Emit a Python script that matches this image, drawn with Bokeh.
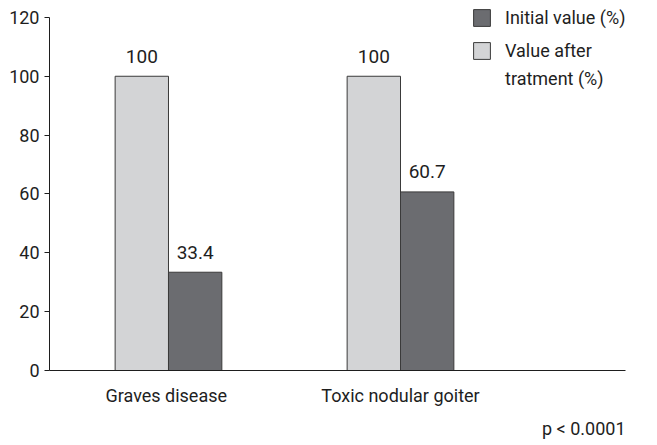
from bokeh.plotting import figure
from bokeh.models import ColumnDataSource, FixedTicker, Legend, LegendItem, Title
from bokeh.transform import dodge
from bokeh.core.properties import value
from bokeh.embed import file_html
from bokeh.resources import INLINE

# ---- data ----
categories = ["Graves  disease", "Toxic nodular goiter"]
cat_pos = [1, 2]
after_values = [100, 100]      # Value after tratment (%)
initial_values = [33.4, 60.7]  # Initial value (%)
y_ticks = [0, 20, 40, 60, 80, 100, 120]
legend_labels = ["Initial value (%)", "Value after", "tratment (%)"]
p_text = "p < 0.0001"

FONT = "Roboto"
LIGHT = "#d3d4d6"
DARK = "#6b6c70"
EDGE = "#3a3a3a"
TXT = "#1e1e1e"

src = ColumnDataSource(dict(
    x=cat_pos,
    after=after_values,
    initial=initial_values,
    after_lbl=[f"{v:g}" for v in after_values],
    initial_lbl=[f"{v:g}" for v in initial_values],
))

X0, X1 = 0.4871, 3.056
Y_TOP = 125.747
p = figure(width=657, height=445, output_backend="svg", toolbar_location=None,
           x_range=(X0, X1), y_range=(0, Y_TOP),
           min_border_left=49, min_border_right=12, min_border_top=0, min_border_bottom=73)
p.outline_line_color = None
p.grid.grid_line_color = None

bw = 0.23
r_after = p.vbar(x=dodge("x", -bw / 2, range=p.x_range), top="after", width=bw, source=src,
                 fill_color=LIGHT, line_color=EDGE, line_width=1)
r_init = p.vbar(x=dodge("x", bw / 2, range=p.x_range), top="initial", width=bw, source=src,
                fill_color=DARK, line_color=EDGE, line_width=1)

for col, off in (("after_lbl", -bw / 2), ("initial_lbl", bw / 2)):
    p.text(x=dodge("x", off, range=p.x_range), y=col.replace("_lbl", ""), text=col, source=src,
           text_align="center", text_baseline="alphabetic", y_offset=-20,
           text_font=value(FONT), text_font_size="19px", text_color=TXT)

# y axis
ya = p.yaxis[0]
ya.ticker = FixedTicker(ticks=y_ticks)
ya.bounds = (0, 120)
ya.minor_tick_line_color = None
ya.major_tick_in = 0
ya.major_tick_out = 5
ya.axis_line_color = TXT
ya.major_tick_line_color = TXT
ya.major_label_text_font = FONT
ya.major_label_text_font_size = "18px"
ya.major_label_text_color = TXT
ya.major_label_standoff = 5

# x axis
xa = p.xaxis[0]
xa.ticker = FixedTicker(ticks=cat_pos)
xa.major_label_overrides = {c: n for c, n in zip(cat_pos, categories)}
xa.bounds = (X0, 2.970)
xa.major_tick_line_color = None
xa.minor_tick_line_color = None
xa.axis_line_color = TXT
xa.major_label_text_font = FONT
xa.major_label_text_font_size = "18px"
xa.major_label_text_color = TXT
xa.major_label_standoff = 8


def style_legend(lg):
    lg.border_line_color = None
    lg.background_fill_alpha = 0
    lg.padding = 0
    lg.margin = 0
    lg.glyph_width = 21
    lg.glyph_height = 21
    lg.label_standoff = 13
    lg.spacing = 12
    lg.label_text_font = FONT
    lg.label_text_font_size = "18px"
    lg.label_text_color = TXT
    lg.label_height = 21


legend_a = Legend(items=[
    LegendItem(label=legend_labels[0], renderers=[r_init]),
    LegendItem(label=legend_labels[1], renderers=[r_after]),
], location=(422, 309))
style_legend(legend_a)
legend_b = Legend(items=[LegendItem(label=legend_labels[2], renderers=[])],
                  location=(422, 281))
style_legend(legend_b)
p.add_layout(legend_a, "center")
p.add_layout(legend_b, "center")

p.add_layout(Title(text=p_text, align="right", offset=20, standoff=14,
                   text_font=FONT, text_font_size="18px", text_font_style="normal",
                   text_color=TXT), "below")

open("out.html", "w").write(file_html(p, INLINE))
